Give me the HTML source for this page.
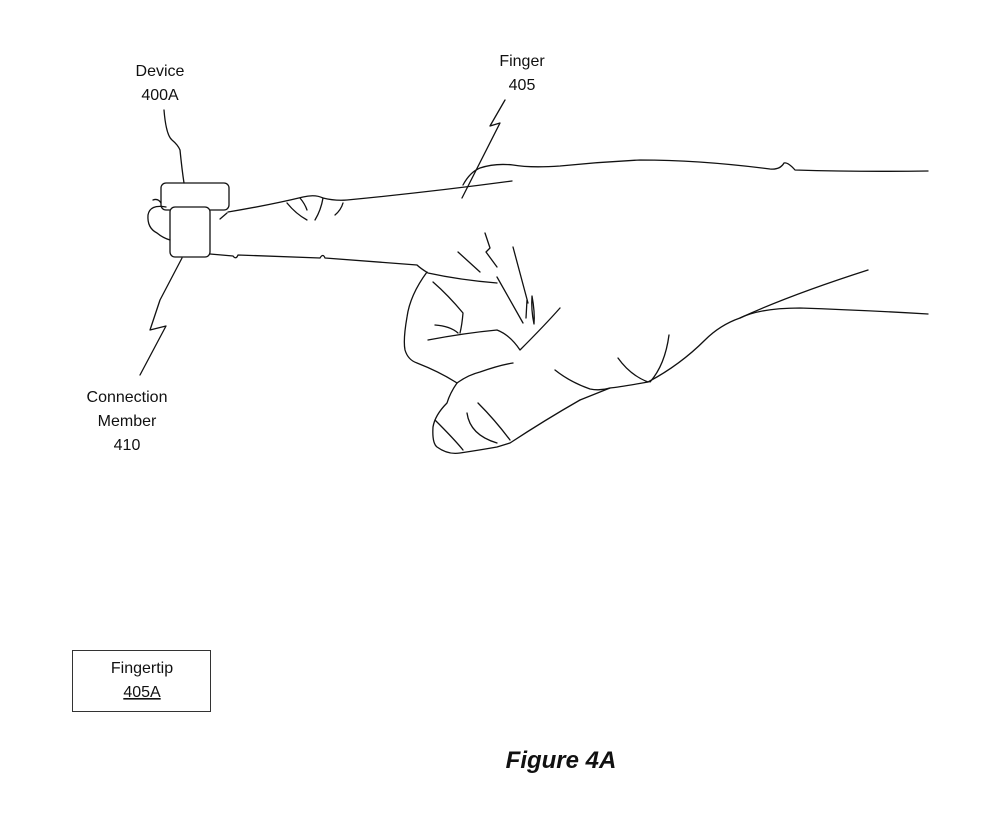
<!DOCTYPE html>
<html><head><style>
body{margin:0;background:#fff;}
svg{display:block;}
text{font-family:"Liberation Sans",sans-serif;fill:#111;}
</style></head><body>
<svg width="981" height="819" viewBox="0 0 981 819" xmlns="http://www.w3.org/2000/svg">
<g fill="none" stroke="#111" stroke-width="1.3" stroke-linecap="round" stroke-linejoin="round">
<rect x="161" y="183" width="68" height="27" rx="5"/>
<rect x="170" y="207" width="40" height="50" rx="5" fill="#fff"/>
<path d="M153,200 Q158,198 161,203"/>
<path d="M166,207 Q150,204 148,215 Q147,228 157,233 Q163,238 170,240"/>
<path d="M228,212 Q270,205 303,197 Q315,194 323,198 Q335,201 347,200 Q430,192 512,181"/>
<path d="M227,213 L220,219"/>
<path d="M287,203 Q296,214 307,220"/><path d="M300,198 Q305,204 307,210"/>
<path d="M323,198 Q321,210 315,220"/><path d="M343,203 Q341,210 335,215"/>
<path d="M463,185 Q470,172 480,168 Q495,163 513,165 Q530,168 560,166 Q600,162 640,160 Q700,160 770,169 Q780,170 784,163 Q788,162 795,170 Q860,172 928,171"/>
<path d="M210,254 L233,256 Q236,260 238,255 L320,258 Q323,253 325,258 L417,265 Q420,268 428,273 Q460,280 497,283"/>
<path d="M427,272 Q410,295 407,317 Q403,340 405,350 Q408,360 417,363 Q440,372 457,383"/>
<path d="M457,383 Q450,393 447,403 Q435,415 433,427 Q432,443 437,447 Q448,455 460,453 Q480,450 497,447 L510,443 Q545,420 580,400"/>
<path d="M457,383 Q468,375 480,372 Q500,365 513,363"/>
<path d="M478,403 Q495,420 510,440"/>
<path d="M467,413 Q470,435 497,443"/>
<path d="M435,420 Q455,440 463,450"/>
<path d="M428,340 Q465,333 497,330 Q510,335 520,350 Q545,325 560,308"/>
<path d="M433,282 Q448,295 463,313 Q462,325 460,333"/>
<path d="M435,325 Q450,326 458,333"/>
<path d="M485,233 L490,248 L486,252 L497,267"/>
<path d="M458,252 L480,272"/>
<path d="M513,247 L528,303"/>
<path d="M497,277 Q510,300 523,323"/>
<path d="M532,296 Q535,312 534,324 Q531,310 532,296"/>
<path d="M527,300 L526,318"/>
<path d="M555,370 Q570,382 590,389 Q600,391 610,388"/>
<path d="M580,400 Q595,394 610,388 Q620,387 648,382 Q680,365 705,340 Q720,325 740,318 Q790,295 868,270"/>
<path d="M740,318 Q760,308 800,308 Q860,310 928,314"/>
<path d="M618,358 Q630,375 648,382"/>
<path d="M669,335 Q665,365 650,382"/>
<path d="M164,110 Q166,135 172,140 Q178,145 180,150 Q182,170 184,183"/>
<path d="M505,100 L490,126 L500,123 L462,198"/>
<path d="M182,258 L160,300 L150,330 L166,326 L140,375"/>
</g>
<text x="160" y="76" font-size="16" text-anchor="middle">Device</text>
<text x="160" y="100" font-size="16" text-anchor="middle">400A</text>
<text x="522" y="66" font-size="16" text-anchor="middle">Finger</text>
<text x="522" y="90" font-size="16" text-anchor="middle">405</text>
<text x="127" y="402" font-size="16" text-anchor="middle">Connection</text>
<text x="127" y="426" font-size="16" text-anchor="middle">Member</text>
<text x="127" y="450" font-size="16" text-anchor="middle">410</text>
<rect x="72.5" y="650.5" width="138" height="61" fill="none" stroke="#333" stroke-width="1"/>
<text x="142" y="673" font-size="16" text-anchor="middle">Fingertip</text>
<text x="142" y="697" font-size="16" text-anchor="middle" text-decoration="underline">405A</text>
<text x="561" y="768" font-size="24" font-weight="bold" font-style="italic" text-anchor="middle">Figure 4A</text>
</svg>
</body></html>
